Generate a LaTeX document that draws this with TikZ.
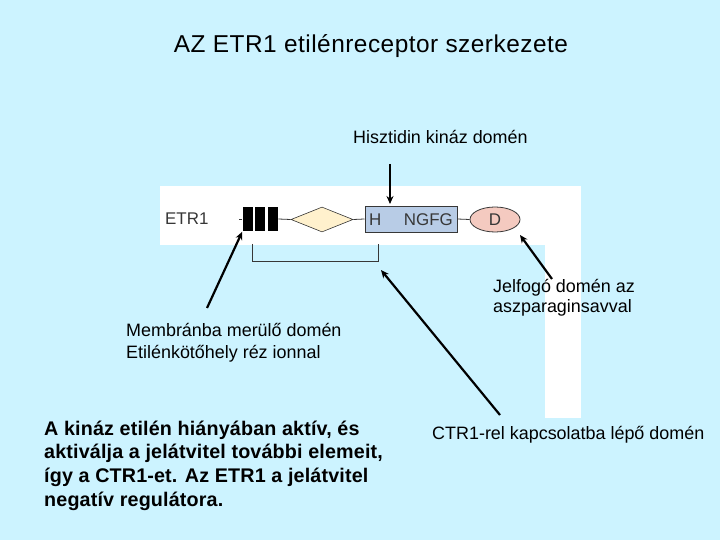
\documentclass[tikz,border=0pt]{standalone}
\usepackage{fontspec}
\setmainfont{Liberation Sans}
\usetikzlibrary{arrows.meta,shapes.geometric}
\definecolor{bg}{RGB}{204,243,255}
\definecolor{boxblue}{RGB}{184,204,230}
\definecolor{diamfill}{RGB}{255,241,205}
\definecolor{ellfill}{RGB}{244,202,192}
\definecolor{dgray}{RGB}{55,55,55}
\begin{document}
\begin{tikzpicture}[x=1bp,y=-1bp,
  txt/.style={inner sep=0pt,font=\fontsize{18}{20}\selectfont},
  bar/.style={fill=black,draw=white,line width=0.6pt,minimum width=11bp,minimum height=25bp,inner sep=0pt},
  thin/.style={draw=dgray,line width=0.8pt},
  arr/.style={line width=2.2pt,-{Stealth[length=8pt,width=7pt]}}]
\useasboundingbox (0,0) rectangle (720,540);
\fill[bg] (0,0) rectangle (720,540);
\fill[white] (160,186) rectangle (581,245);
\fill[white] (545,186) rectangle (581,418);

\node[txt,anchor=base,font=\fontsize{24.5}{27}\selectfont\addfontfeature{LetterSpace=2}] (title) at (371,53) {AZ ETR1 etilénreceptor szerkezete};

% diagram
\node[txt,anchor=base west,text=dgray,font=\fontsize{17}{19}\selectfont] (etr) at (165,225) {ETR1};
\coordinate (lstart) at (239,219);
\node[bar] (b1) at (248,219) {};
\node[bar] (b2) at (260,219) {};
\node[bar] (b3) at (272.5,219) {};
\node[diamond,draw=dgray,line width=0.6pt,fill=diamfill,minimum width=62bp,minimum height=25bp,inner sep=0pt,aspect=2.5] (dia) at (322,219.5) {};
\node[rectangle,draw=dgray,line width=1pt,fill=boxblue,minimum width=92bp,minimum height=26bp,inner sep=0pt] (kin) at (411,219) {};
\node[txt,anchor=base west,text=dgray,font=\fontsize{17}{19}\selectfont] (h) at (369,225.5) {H};
\node[txt,anchor=base east,text=dgray,font=\fontsize{17}{19}\selectfont] (ngfg) at (453,225.5) {NGFG};
\node[ellipse,draw=dgray,line width=0.8pt,fill=ellfill,minimum width=50bp,minimum height=25bp,inner sep=0pt] (ell) at (495,219.5) {};
\node[txt,text=dgray,font=\fontsize{17}{19}\selectfont] (d) at (495,219.5) {D};

\draw[thin] (lstart) -- (b1.west);
\draw[thin] (b3.east) -- (dia.west);
\draw[thin] (dia.east) -- (kin.west);
\draw[thin] (kin.east) -- (ell.west);
\draw[draw=dgray,line width=0.8pt] (252,244) |- (378,261) -- (378,244);

% labels (base anchor of multi-line nodes = last line)
\node[txt,anchor=base west] (hisz) at (353,144) {Hisztidin kináz domén};
\node[txt,anchor=base west,align=left,font=\fontsize{18}{20}\selectfont] (jel) at (493,312) {Jelfogó domén az\\aszparaginsavval};
\node[txt,anchor=base west,align=left,font=\fontsize{18}{22}\selectfont] (mem) at (126,358) {Membránba merülő domén\\Etilénkötőhely réz ionnal};
\node[txt,anchor=base west] (ctr) at (432,439) {CTR1-rel kapcsolatba lépő domén};
\node[txt,anchor=base west,align=left,font=\fontsize{19.8}{23.7}\selectfont\bfseries\addfontfeature{LetterSpace=0.8}] (note) at (44,506) {A kináz etilén hiányában aktív, és\\aktiválja a jelátvitel további elemeit,\\így a CTR1-et. Az ETR1 a jelátvitel\\negatív regulátora.};

% arrows
\coordinate (hisztail) at (390,164);
\coordinate (hiszhead) at (390,204);
\draw[arr,line width=2pt] (hisztail) -- (hiszhead);
\coordinate (memtail) at (207,308);
\draw[arr] (memtail) -- (b1.south west);
\coordinate (jeltail) at (552,279);
\coordinate (jelhead) at (520,235);
\draw[arr] (jeltail) -- (jelhead);
\coordinate (ctrtail) at (500,415);
\coordinate (ctrhead) at (381,270);
\draw[arr] (ctrtail) -- (ctrhead);
\end{tikzpicture}
\end{document}
